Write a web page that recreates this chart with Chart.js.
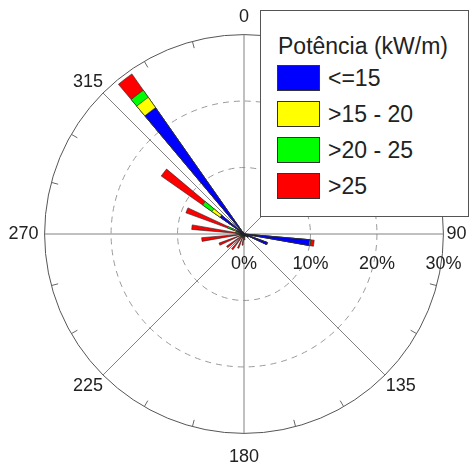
<!DOCTYPE html>
<html>
<head>
<meta charset="utf-8">
<script src="https://cdn.jsdelivr.net/npm/chart.js@4.4.1/dist/chart.umd.min.js"></script>
<style>
    html, body { margin: 0; padding: 0; background: #fff; overflow: hidden; }
    #wrap { position: relative; width: 471px; height: 464px; overflow: hidden; }
    #chartBox { position: absolute; left: 0; top: 0; width: 474px; height: 471px; }
    #legendBox {
        position: absolute; left: 260px; top: 10px; width: 209px; height: 207px;
        background: #fff; border: 1px solid #555; box-sizing: border-box;
        font-family: "Liberation Sans", Arial, sans-serif; color: #222;
    }
    #legendBox .title { position: absolute; left: 17px; top: 22px; font-size: 23px; line-height: 26px; white-space: nowrap; }
    #legendBox .item { position: absolute; left: 16px; height: 26px; font-size: 23px; line-height: 26px; white-space: nowrap; }
    #legendBox .sw { display: inline-block; width: 41px; height: 24px; border: 1px solid #333; vertical-align: top; margin-right: 8px; }
</style>
</head>
<body>
<div id="wrap">
    <div id="chartBox"><canvas id="roseChart"></canvas></div>
    <div id="legendBox"></div>
</div>
<script>
    // direction bins (centre of each 15 degree sector)
    const directions = [7.5, 22.5, 37.5, 52.5, 67.5, 82.5, 97.5, 112.5, 127.5, 142.5, 157.5, 172.5,
        187.5, 202.5, 217.5, 232.5, 247.5, 262.5, 277.5, 292.5, 307.5, 322.5, 337.5, 352.5];

    // frequency (%) per power class and direction
    const classNames = ['<=15', '>15 - 20', '>20 - 25', '>25'];
    const classColors = ['#0000ff', '#ffff00', '#00ff00', '#ff0000'];
    const lowPower = [0, 0, 0, 0, 0, 0, 9.9, 3.7, 0.7, 0.3, 0.3, 0.3, 0.3, 0.3, 0.3, 0.3, 0.3, 0.3, 0.6, 1.2, 4.4, 23.2, 0.3, 0];
    const midPower = [0, 0, 0, 0, 0, 0, 0.1, 0, 0, 0, 0, 0, 0.1, 0.1, 0.1, 0.1, 0.1, 0.2, 0.3, 0.6, 1.5, 1.9, 0, 0];
    const highPower = [0, 0, 0, 0, 0, 0, 0.1, 0, 0, 0, 0, 0.1, 0.1, 0.1, 0.2, 0.2, 0.2, 0.3, 0.4, 0.9, 1.7, 1.3, 0, 0];
    const topPower = [0, 0, 0, 0, 0, 0, 0.5, 0.1, 0.1, 0.1, 0.2, 0.5, 1.2, 1.8, 2.3, 2.6, 3.4, 5.6, 6.6, 6.6, 7.6, 3.0, 0, 0];

    // scale
    const rMax = 30;
    const radialTicks = [0, 10, 20, 30];
    const angleLabels = ['0', '45', '90', '135', '180', '225', '270', '315'];
    const labelGaps = [7, 0, 3, 1, 13, 0, 6, 0];
    const ringTicks = [15, 30, 60, 75, 105, 120, 150, 165, 195, 210, 240, 255, 285, 300, 330, 345];

    const fontFamily = '"Liberation Sans", Arial, sans-serif';

    // each 15 degree bin is split in 3 slots of 5 degrees: gap, bar, gap
    const slotCount = directions.length * 3;
    const slotLabels = [];
    for (let i = 0; i < slotCount; i++) {
        slotLabels.push(i % 9 === 0 ? angleLabels[i / 9] : '');
    }

    function stackedSlots(series) {
        const out = new Array(slotCount).fill(0);
        directions.forEach((d, k) => {
            let sum = 0;
            series.forEach(s => { sum += s[k]; });
            out[k * 3 + 1] = +sum.toFixed(2);
        });
        return out;
    }

    const classSeries = [lowPower, midPower, highPower, topPower];
    // dataset 0 is painted last, so the smallest cumulative value sits on top
    const datasets = classSeries.map((s, i) => ({
        label: classNames[i],
        data: stackedSlots(classSeries.slice(0, i + 1)),
        backgroundColor: classColors[i],
        borderColor: '#222',
        borderWidth: 0.6
    }));

    // outer ring ticks and radial percent labels
    const polarExtras = {
        id: 'polarExtras',
        beforeDatasetsDraw(chart) {
            const r = chart.scales.r;
            const ctx = chart.ctx;
            const outer = r.getDistanceFromCenterForValue(rMax);
            ctx.save();
            ctx.strokeStyle = '#666';
            ctx.lineWidth = 1;
            ringTicks.forEach(deg => {
                const a = deg * Math.PI / 180 - Math.PI / 2;
                ctx.beginPath();
                ctx.moveTo(r.xCenter + Math.cos(a) * outer, r.yCenter + Math.sin(a) * outer);
                ctx.lineTo(r.xCenter + Math.cos(a) * (outer - 7), r.yCenter + Math.sin(a) * (outer - 7));
                ctx.stroke();
            });
            ctx.restore();
        },
        afterDatasetsDraw(chart) {
            const r = chart.scales.r;
            const ctx = chart.ctx;
            ctx.save();
            ctx.fillStyle = '#222';
            ctx.font = '18px ' + fontFamily;
            ctx.textAlign = 'center';
            ctx.textBaseline = 'middle';
            radialTicks.forEach(v => {
                ctx.fillText(v + '%', r.xCenter + r.getDistanceFromCenterForValue(v), r.yCenter + 30);
            });
            ctx.restore();
        }
    };

    function createRoseChart() {
        const ctx = document.getElementById('roseChart').getContext('2d');
        new Chart(ctx, {
            type: 'polarArea',
            data: { labels: slotLabels, datasets: datasets },
            options: {
                responsive: true,
                maintainAspectRatio: false,
                animation: false,
                layout: { padding: { left: 2, top: 4, right: 0, bottom: 0 } },
                scales: {
                    r: {
                        min: 0,
                        max: rMax,
                        startAngle: 0,
                        ticks: { display: false, stepSize: 10 },
                        grid: {
                            circular: true,
                            color: c => c.index === 3 ? '#555' : '#9a9a9a',
                            lineWidth: 1
                        },
                        border: { dash: c => c.index === 3 ? [] : [6, 5] },
                        angleLines: {
                            display: true,
                            color: '#808080',
                            lineWidth: c => c.index % 9 === 0 ? 1 : 0
                        },
                        pointLabels: {
                            display: true,
                            color: '#222',
                            padding: c => c.index % 9 === 0 ? labelGaps[c.index / 9] : 0,
                            font: { family: fontFamily, size: 18 }
                        }
                    }
                },
                plugins: {
                    legend: { display: false },
                    tooltip: { enabled: false }
                }
            },
            plugins: [polarExtras]
        });

        // legend box drawn over the chart like the original
        const box = document.getElementById('legendBox');
        let html = '<div class="title">Potência (kW/m)</div>';
        classNames.forEach((name, i) => {
            html += '<div class="item" style="top:' + (54 + i * 36) + 'px"><span class="sw" style="background:' +
                classColors[i] + '"></span>' + name + '</div>';
        });
        box.innerHTML = html;
    }

    document.addEventListener('DOMContentLoaded', createRoseChart);
</script>
</body>
</html>
